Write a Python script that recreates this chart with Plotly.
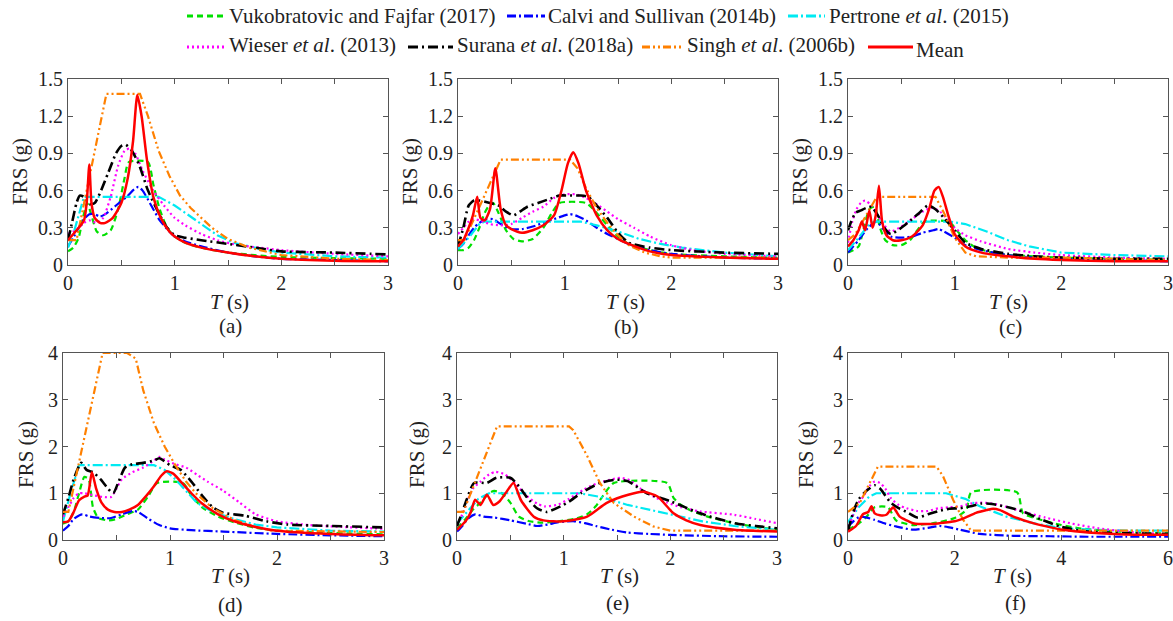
import plotly.graph_objects as go

# ---------------- data ----------------
# Panel (a)
A_VF_T = [0, 0.05, 0.1, 0.14, 0.18, 0.22, 0.27, 0.33, 0.4, 0.47, 0.53, 0.57, 0.75, 0.8, 0.86, 0.93, 1.0, 1.1, 1.25, 1.5, 1.75, 2.0, 2.5, 3.0]
A_VF = [0.11, 0.14, 0.22, 0.38, 0.5, 0.4, 0.27, 0.24, 0.28, 0.45, 0.7, 0.83, 0.83, 0.65, 0.45, 0.3, 0.23, 0.18, 0.14, 0.1, 0.08, 0.065, 0.055, 0.05]
A_CS_T = [0, 0.05, 0.1, 0.15, 0.2, 0.25, 0.3, 0.35, 0.45, 0.55, 0.62, 0.66, 0.7, 0.78, 0.86, 0.95, 1.0, 1.1, 1.25, 1.5, 1.75, 2.0, 2.5, 3.0]
A_CS = [0.15, 0.22, 0.3, 0.37, 0.41, 0.41, 0.39, 0.41, 0.48, 0.55, 0.61, 0.63, 0.6, 0.48, 0.36, 0.27, 0.23, 0.19, 0.15, 0.1, 0.07, 0.05, 0.04, 0.03]
A_PE_T = [0, 0.05, 0.1, 0.15, 0.85, 1.0, 1.1, 1.25, 1.4, 1.55, 1.8, 2.0, 2.5, 3.0]
A_PE = [0.14, 0.25, 0.4, 0.55, 0.55, 0.48, 0.42, 0.33, 0.24, 0.18, 0.13, 0.1, 0.07, 0.06]
A_WI_T = [0, 0.05, 0.1, 0.15, 0.2, 0.27, 0.33, 0.4, 0.47, 0.53, 0.58, 0.63, 0.7, 0.8, 0.9, 1.0, 1.1, 1.25, 1.4, 1.6, 1.8, 2.0, 2.5, 3.0]
A_WI = [0.25, 0.27, 0.3, 0.34, 0.36, 0.34, 0.38, 0.55, 0.8, 0.92, 0.94, 0.9, 0.76, 0.6, 0.48, 0.38, 0.32, 0.25, 0.2, 0.16, 0.14, 0.12, 0.09, 0.07]
A_SU_T = [0, 0.04, 0.08, 0.11, 0.15, 0.2, 0.25, 0.3, 0.38, 0.45, 0.5, 0.54, 0.6, 0.67, 0.75, 0.85, 0.93, 1.0, 1.1, 1.25, 1.5, 1.75, 2.0, 2.5, 3.0]
A_SU = [0.2, 0.35, 0.5, 0.56, 0.55, 0.49, 0.5, 0.58, 0.75, 0.9, 0.96, 0.97, 0.92, 0.8, 0.6, 0.42, 0.3, 0.24, 0.22, 0.2, 0.17, 0.14, 0.11, 0.1, 0.085]
A_SI_T = [0, 0.08, 0.36, 0.675, 0.75, 0.85, 0.95, 1.05, 1.15, 1.25, 1.35, 1.5, 1.7, 2.0, 2.5, 3.0]
A_SI = [0.2, 0.2, 1.38, 1.38, 1.2, 0.92, 0.72, 0.56, 0.46, 0.38, 0.3, 0.21, 0.14, 0.08, 0.05, 0.04]
A_MEAN_T = [0, 0.05, 0.1, 0.15, 0.175, 0.2, 0.22, 0.25, 0.3, 0.35, 0.42, 0.5, 0.56, 0.61, 0.65, 0.69, 0.74, 0.8, 0.87, 0.95, 1.0, 1.1, 1.25, 1.5, 1.75, 2.0, 2.5, 3.0]
A_MEAN = [0.2, 0.25, 0.3, 0.36, 0.5, 0.81, 0.5, 0.38, 0.34, 0.34, 0.38, 0.5, 0.7, 1.0, 1.37, 1.2, 0.85, 0.55, 0.38, 0.27, 0.23, 0.18, 0.14, 0.1, 0.07, 0.05, 0.035, 0.03]

# Panel (b)
B_VF_T = [0, 0.05, 0.1, 0.15, 0.2, 0.25, 0.3, 0.33, 0.38, 0.45, 0.52, 0.6, 0.7, 0.8, 0.88, 0.95, 1.2, 1.3, 1.4, 1.5, 1.6, 1.8, 2.0, 2.5, 3.0]
B_VF = [0.12, 0.12, 0.14, 0.2, 0.3, 0.42, 0.49, 0.5, 0.42, 0.28, 0.21, 0.19, 0.21, 0.3, 0.42, 0.5, 0.5, 0.42, 0.32, 0.23, 0.17, 0.12, 0.09, 0.07, 0.06]
B_CS_T = [0, 0.05, 0.1, 0.15, 0.2, 0.27, 0.33, 0.4, 0.5, 0.6, 0.7, 0.8, 0.9, 1.0, 1.05, 1.1, 1.2, 1.3, 1.4, 1.5, 1.6, 1.8, 2.0, 2.5, 3.0]
B_CS = [0.13, 0.17, 0.24, 0.3, 0.34, 0.37, 0.37, 0.33, 0.29, 0.29, 0.31, 0.34, 0.37, 0.4, 0.41, 0.4, 0.36, 0.3, 0.25, 0.21, 0.17, 0.12, 0.09, 0.06, 0.05]
B_PE_T = [0, 0.1, 0.2, 0.25, 1.15, 1.3, 1.5, 1.7, 1.9, 2.1, 2.5, 3.0]
B_PE = [0.13, 0.22, 0.33, 0.35, 0.35, 0.32, 0.27, 0.21, 0.17, 0.14, 0.1, 0.07]
B_WI_T = [0, 0.05, 0.1, 0.15, 0.2, 0.3, 0.4, 0.5, 0.6, 0.7, 0.8, 0.9, 1.0, 1.1, 1.2, 1.3, 1.4, 1.5, 1.65, 1.8, 2.0, 2.2, 2.5, 3.0]
B_WI = [0.25, 0.3, 0.35, 0.37, 0.36, 0.33, 0.32, 0.33, 0.38, 0.43, 0.47, 0.54, 0.57, 0.57, 0.54, 0.49, 0.43, 0.37, 0.3, 0.23, 0.16, 0.12, 0.09, 0.07]
B_SU_T = [0, 0.05, 0.1, 0.15, 0.2, 0.3, 0.38, 0.45, 0.52, 0.58, 0.65, 0.75, 0.85, 0.95, 1.05, 1.15, 1.22, 1.3, 1.4, 1.5, 1.6, 1.8, 2.0, 2.5, 3.0]
B_SU = [0.15, 0.3, 0.48, 0.52, 0.52, 0.5, 0.48, 0.43, 0.4, 0.43, 0.47, 0.5, 0.53, 0.56, 0.56, 0.56, 0.55, 0.48, 0.38, 0.26, 0.18, 0.14, 0.12, 0.1, 0.09]
B_SI_T = [0, 0.06, 0.4, 1.05, 1.12, 1.2, 1.3, 1.4, 1.5, 1.6, 1.75, 1.9, 2.0, 2.5, 3.0]
B_SI = [0.2, 0.2, 0.85, 0.85, 0.78, 0.62, 0.46, 0.34, 0.24, 0.16, 0.1, 0.07, 0.06, 0.06, 0.06]
B_MEAN_T = [0, 0.05, 0.1, 0.14, 0.18, 0.21, 0.25, 0.3, 0.35, 0.4, 0.45, 0.5, 0.6, 0.7, 0.8, 0.9, 0.97, 1.03, 1.08, 1.13, 1.2, 1.3, 1.4, 1.5, 1.6, 1.8, 2.0, 2.5, 3.0]
B_MEAN = [0.15, 0.2, 0.3, 0.4, 0.55, 0.38, 0.36, 0.45, 0.78, 0.45, 0.32, 0.29, 0.26, 0.28, 0.32, 0.4, 0.6, 0.82, 0.91, 0.82, 0.6, 0.4, 0.28, 0.21, 0.17, 0.11, 0.08, 0.06, 0.05]

# Panel (c)
C_VF_T = [0, 0.05, 0.1, 0.15, 0.2, 0.25, 0.3, 0.35, 0.42, 0.5, 0.58, 0.65, 0.72, 0.95, 1.0, 1.1, 1.2, 1.35, 1.5, 1.75, 2.0, 2.5, 3.0]
C_VF = [0.1, 0.12, 0.15, 0.3, 0.45, 0.47, 0.3, 0.2, 0.16, 0.16, 0.2, 0.28, 0.35, 0.35, 0.3, 0.2, 0.14, 0.1, 0.08, 0.07, 0.06, 0.05, 0.04]
C_CS_T = [0, 0.05, 0.1, 0.15, 0.2, 0.27, 0.32, 0.4, 0.5, 0.6, 0.7, 0.8, 0.85, 0.9, 1.0, 1.1, 1.25, 1.5, 1.75, 2.0, 2.5, 3.0]
C_CS = [0.1, 0.15, 0.2, 0.26, 0.31, 0.35, 0.3, 0.23, 0.22, 0.23, 0.26, 0.28, 0.29, 0.27, 0.22, 0.16, 0.12, 0.08, 0.06, 0.05, 0.04, 0.03]
C_PE_T = [0, 0.1, 0.2, 0.25, 0.95, 1.1, 1.3, 1.5, 1.7, 2.0, 2.5, 3.0]
C_PE = [0.12, 0.22, 0.33, 0.35, 0.35, 0.33, 0.27, 0.2, 0.15, 0.1, 0.08, 0.07]
C_WI_T = [0, 0.04, 0.08, 0.12, 0.16, 0.22, 0.28, 0.34, 0.4, 0.5, 0.6, 0.7, 0.78, 0.85, 0.92, 1.0, 1.1, 1.25, 1.5, 1.75, 2.0, 2.5, 3.0]
C_WI = [0.18, 0.35, 0.45, 0.5, 0.52, 0.48, 0.4, 0.32, 0.27, 0.31, 0.37, 0.43, 0.46, 0.44, 0.38, 0.3, 0.24, 0.19, 0.13, 0.1, 0.08, 0.06, 0.05]
C_SU_T = [0, 0.03, 0.07, 0.12, 0.17, 0.22, 0.28, 0.34, 0.4, 0.5, 0.6, 0.68, 0.75, 0.82, 0.9, 1.0, 1.1, 1.25, 1.5, 1.75, 2.0, 2.5, 3.0]
C_SU = [0.28, 0.35, 0.42, 0.44, 0.46, 0.47, 0.4, 0.3, 0.25, 0.3, 0.37, 0.43, 0.48, 0.45, 0.38, 0.28, 0.18, 0.13, 0.09, 0.07, 0.06, 0.05, 0.05]
C_SI_T = [0, 0.07, 0.27, 0.82, 0.9, 1.0, 1.1, 1.2, 1.5, 2.0, 2.5, 3.0]
C_SI = [0.2, 0.25, 0.55, 0.55, 0.42, 0.22, 0.1, 0.07, 0.06, 0.06, 0.05, 0.04]
C_MEAN_T = [0, 0.05, 0.1, 0.13, 0.16, 0.2, 0.23, 0.26, 0.29, 0.32, 0.36, 0.42, 0.5, 0.6, 0.7, 0.76, 0.81, 0.85, 0.89, 0.94, 1.0, 1.1, 1.25, 1.5, 1.75, 2.0, 2.5, 3.0]
C_MEAN = [0.15, 0.2, 0.28, 0.35, 0.28, 0.44, 0.3, 0.4, 0.64, 0.35, 0.24, 0.2, 0.2, 0.23, 0.32, 0.45, 0.6, 0.63, 0.55, 0.4, 0.25, 0.15, 0.1, 0.07, 0.05, 0.04, 0.03, 0.03]

# Panel (d)
D_VF_T = [0, 0.05, 0.1, 0.15, 0.2, 0.24, 0.28, 0.33, 0.42, 0.5, 0.6, 0.7, 0.8, 0.88, 1.12, 1.2, 1.3, 1.45, 1.6, 1.8, 2.0, 2.5, 3.0]
D_VF = [0.35, 0.4, 0.6, 1.0, 1.35, 1.3, 0.7, 0.47, 0.42, 0.45, 0.55, 0.65, 0.95, 1.22, 1.22, 0.95, 0.7, 0.5, 0.38, 0.26, 0.2, 0.15, 0.12]
D_CS_T = [0, 0.05, 0.1, 0.18, 0.25, 0.35, 0.45, 0.55, 0.65, 0.7, 0.8, 0.9, 1.0, 1.2, 1.5, 2.0, 2.5, 3.0]
D_CS = [0.2, 0.3, 0.45, 0.55, 0.5, 0.47, 0.47, 0.55, 0.62, 0.6, 0.45, 0.32, 0.25, 0.21, 0.18, 0.13, 0.1, 0.08]
D_PE_T = [0, 0.07, 0.15, 0.85, 0.95, 1.05, 1.15, 1.25, 1.4, 1.6, 1.8, 2.0, 2.5, 3.0]
D_PE = [0.4, 1.0, 1.6, 1.6, 1.5, 1.3, 1.05, 0.8, 0.6, 0.45, 0.33, 0.27, 0.2, 0.18]
D_WI_T = [0, 0.05, 0.1, 0.15, 0.2, 0.3, 0.38, 0.45, 0.5, 0.55, 0.65, 0.75, 0.85, 0.9, 0.95, 1.05, 1.15, 1.25, 1.35, 1.5, 1.65, 1.8, 2.0, 2.3, 2.6, 3.0]
D_WI = [0.5, 0.7, 0.9, 1.0, 1.0, 0.95, 0.92, 0.92, 1.1, 1.3, 1.45, 1.55, 1.7, 1.78, 1.72, 1.62, 1.55, 1.4, 1.25, 1.05, 0.8, 0.55, 0.4, 0.32, 0.28, 0.24]
D_SU_T = [0, 0.05, 0.1, 0.17, 0.22, 0.28, 0.35, 0.42, 0.47, 0.52, 0.58, 0.65, 0.75, 0.85, 0.9, 1.0, 1.1, 1.2, 1.3, 1.4, 1.5, 1.7, 1.9, 2.1, 2.5, 3.0]
D_SU = [0.55, 0.9, 1.3, 1.65, 1.5, 1.45, 1.3, 1.1, 1.0, 1.25, 1.55, 1.62, 1.65, 1.7, 1.75, 1.6, 1.5, 1.25, 0.95, 0.7, 0.58, 0.52, 0.4, 0.33, 0.3, 0.27]
D_SI_T = [0, 0.05, 0.37, 0.6, 0.68, 0.75, 0.85, 0.95, 1.05, 1.15, 1.25, 1.4, 1.6, 1.8, 1.95, 3.0]
D_SI = [0.6, 0.6, 4.0, 4.0, 3.88, 3.2, 2.5, 2.0, 1.6, 1.25, 0.98, 0.68, 0.43, 0.28, 0.2, 0.17]
D_MEAN_T = [0, 0.05, 0.1, 0.15, 0.2, 0.23, 0.27, 0.31, 0.36, 0.42, 0.48, 0.55, 0.62, 0.7, 0.78, 0.85, 0.92, 0.97, 1.03, 1.1, 1.2, 1.3, 1.45, 1.6, 1.8, 2.0, 2.5, 3.0]
D_MEAN = [0.38, 0.4, 0.6, 0.85, 0.93, 0.95, 1.45, 1.1, 0.8, 0.65, 0.6, 0.6, 0.65, 0.75, 0.95, 1.15, 1.38, 1.47, 1.42, 1.25, 1.0, 0.78, 0.55, 0.4, 0.28, 0.2, 0.13, 0.1]

# Panel (e)
E_VF_T = [0, 0.08, 0.15, 0.22, 0.3, 0.35, 0.42, 0.5, 0.58, 0.68, 0.8, 0.95, 1.1, 1.22, 1.3, 1.37, 1.47, 1.97, 2.03, 2.1, 2.2, 2.35, 2.6, 2.8, 3.0]
E_VF = [0.25, 0.45, 0.65, 0.8, 1.0, 1.05, 1.0, 0.8, 0.5, 0.4, 0.37, 0.4, 0.45, 0.55, 0.72, 0.95, 1.22, 1.22, 0.9, 0.75, 0.62, 0.5, 0.36, 0.28, 0.22]
E_CS_T = [0, 0.05, 0.1, 0.17, 0.25, 0.35, 0.5, 0.65, 0.75, 0.85, 0.95, 1.1, 1.2, 1.3, 1.45, 1.6, 1.8, 2.0, 2.5, 3.0]
E_CS = [0.18, 0.3, 0.45, 0.55, 0.5, 0.48, 0.42, 0.35, 0.3, 0.33, 0.38, 0.4, 0.36, 0.3, 0.22, 0.16, 0.13, 0.11, 0.08, 0.07]
E_PE_T = [0, 0.1, 0.2, 0.3, 1.15, 1.35, 1.6, 2.0, 2.3, 2.6, 3.0]
E_PE = [0.35, 0.62, 0.88, 1.0, 1.0, 0.92, 0.75, 0.55, 0.4, 0.3, 0.22]
E_WI_T = [0, 0.05, 0.1, 0.15, 0.22, 0.3, 0.36, 0.45, 0.55, 0.65, 0.75, 0.82, 0.95, 1.05, 1.19, 1.3, 1.42, 1.53, 1.62, 1.72, 1.85, 1.97, 2.1, 2.28, 2.6, 2.8, 3.0]
E_WI = [0.3, 0.55, 0.85, 1.1, 1.25, 1.4, 1.46, 1.4, 1.2, 0.95, 0.78, 0.72, 0.76, 0.88, 1.08, 1.2, 1.28, 1.33, 1.28, 1.1, 0.92, 0.8, 0.7, 0.61, 0.54, 0.45, 0.36]
E_SU_T = [0, 0.05, 0.09, 0.16, 0.28, 0.37, 0.5, 0.58, 0.66, 0.75, 0.84, 0.97, 1.05, 1.16, 1.34, 1.5, 1.6, 1.78, 2.0, 2.28, 2.6, 2.8, 3.0]
E_SU = [0.3, 0.6, 0.86, 1.22, 1.22, 1.33, 1.33, 1.15, 0.9, 0.68, 0.6, 0.72, 0.82, 1.0, 1.22, 1.29, 1.26, 1.0, 0.83, 0.57, 0.36, 0.3, 0.25]
E_SI_T = [0, 0.06, 0.375, 1.05, 1.09, 1.22, 1.34, 1.47, 1.66, 1.84, 2.0, 3.0]
E_SI = [0.6, 0.6, 2.43, 2.43, 2.35, 1.8, 1.22, 0.79, 0.5, 0.29, 0.2, 0.2]
E_MEAN_T = [0, 0.08, 0.13, 0.17, 0.22, 0.28, 0.34, 0.4, 0.47, 0.53, 0.6, 0.72, 0.81, 1.0, 1.22, 1.4, 1.55, 1.66, 1.75, 1.88, 2.03, 2.15, 2.28, 2.6, 3.0]
E_MEAN = [0.22, 0.4, 0.6, 0.86, 0.75, 0.97, 0.75, 0.83, 1.05, 1.22, 0.85, 0.5, 0.42, 0.4, 0.5, 0.79, 0.93, 1.0, 1.03, 0.93, 0.57, 0.42, 0.32, 0.22, 0.18]

# Panel (f)
F_VF_T = [0, 0.2, 0.35, 0.5, 0.75, 0.9, 1.22, 1.6, 2.0, 2.22, 2.31, 3.17, 3.28, 3.5, 3.72, 4.0, 4.34, 4.8, 5.4, 6.0]
F_VF = [0.22, 0.35, 0.5, 0.7, 0.7, 0.42, 0.32, 0.36, 0.47, 0.65, 1.02, 1.02, 0.57, 0.47, 0.4, 0.32, 0.25, 0.2, 0.16, 0.14]
F_CS_T = [0, 0.1, 0.22, 0.35, 0.5, 0.7, 0.9, 1.22, 1.5, 1.72, 1.9, 2.1, 2.47, 3.1, 3.8, 4.5, 5.2, 6.0]
F_CS = [0.29, 0.4, 0.5, 0.48, 0.43, 0.35, 0.29, 0.22, 0.26, 0.3, 0.27, 0.22, 0.13, 0.09, 0.08, 0.07, 0.07, 0.07]
F_PE_T = [0, 0.2, 0.4, 0.53, 1.84, 2.2, 2.47, 2.97, 3.47, 4.03, 4.6, 5.2, 6.0]
F_PE = [0.38, 0.7, 0.93, 1.0, 1.0, 0.88, 0.72, 0.5, 0.36, 0.25, 0.22, 0.2, 0.2]
F_WI_T = [0, 0.1, 0.2, 0.3, 0.4, 0.5, 0.6, 0.7, 0.8, 0.95, 1.1, 1.3, 1.5, 1.7, 1.9, 2.1, 2.3, 2.5, 2.7, 3.0, 3.3, 3.7, 4.2, 4.7, 5.3, 6.0]
F_WI = [0.2, 0.55, 0.8, 0.95, 1.15, 1.25, 1.22, 1.1, 0.9, 0.75, 0.68, 0.62, 0.62, 0.68, 0.7, 0.72, 0.78, 0.8, 0.78, 0.7, 0.6, 0.48, 0.35, 0.25, 0.17, 0.12]
F_SU_T = [0, 0.1, 0.2, 0.3, 0.4, 0.5, 0.6, 0.7, 0.8, 0.95, 1.1, 1.3, 1.5, 1.7, 1.9, 2.1, 2.3, 2.5, 2.7, 3.0, 3.3, 3.6, 4.0, 4.5, 5.0, 6.0]
F_SU = [0.2, 0.6, 0.87, 1.0, 1.1, 1.17, 1.1, 0.95, 0.8, 0.68, 0.6, 0.48, 0.55, 0.62, 0.67, 0.68, 0.72, 0.78, 0.77, 0.7, 0.6, 0.45, 0.28, 0.18, 0.15, 0.13]
F_SI_T = [0, 0.22, 0.56, 1.66, 1.78, 1.97, 2.16, 2.31, 6.0]
F_SI = [0.6, 0.79, 1.57, 1.57, 1.37, 0.86, 0.43, 0.2, 0.2]
F_MEAN_T = [0, 0.15, 0.28, 0.38, 0.44, 0.5, 0.6, 0.72, 0.8, 0.85, 0.9, 0.97, 1.1, 1.22, 1.5, 1.72, 2.0, 2.2, 2.4, 2.6, 2.72, 2.85, 3.1, 3.47, 3.8, 4.03, 4.5, 5.2, 6.0]
F_MEAN = [0.18, 0.3, 0.55, 0.6, 0.72, 0.57, 0.53, 0.54, 0.65, 0.7, 0.62, 0.5, 0.42, 0.36, 0.34, 0.36, 0.4, 0.48, 0.58, 0.64, 0.67, 0.64, 0.5, 0.36, 0.27, 0.22, 0.16, 0.12, 0.11]

PANELS = ["A", "B", "C", "D", "E", "F"]
PANEL_LABELS = ["(a)", "(b)", "(c)", "(d)", "(e)", "(f)"]
SERIES_KEYS = ["VF", "CS", "PE", "WI", "SU", "SI", "MEAN"]
SERIES_NAMES = ["Vukobratovic and Fajfar (2017)", "Calvi and Sullivan (2014b)",
                "Pertrone <i>et al</i>. (2015)", "Wieser <i>et al</i>. (2013)",
                "Surana <i>et al</i>. (2018a)", "Singh <i>et al</i>. (2006b)", "Mean"]
TOP_YTICKS = [0, 0.3, 0.6, 0.9, 1.2, 1.5]
TOP_YTICKTEXT = ["0", "0.3", "0.6", "0.9", "1.2", "1.5"]
BOT_YTICKS = [0, 1, 2, 3, 4]
BOT_YTICKTEXT = ["0", "1", "2", "3", "4"]
X3_TICKS = [0, 0.5, 1, 1.5, 2, 2.5, 3]
X3_TICKTEXT = ["0", "", "1", "", "2", "", "3"]
X6_TICKS = [0, 1, 2, 3, 4, 5, 6]
X6_TICKTEXT = ["0", "", "2", "", "4", "", "6"]

# ---------------- styles ----------------
STYLE = {
    "VF":   dict(color="#00e000", width=2.2, dash="6px,4px"),
    "CS":   dict(color="#0000ff", width=2.2, dash="9px,3px,2px,3px"),
    "PE":   dict(color="#00eaf2", width=2.2, dash="10px,3px,2px,3px"),
    "WI":   dict(color="#ff00ff", width=2.2, dash="2px,3px"),
    "SU":   dict(color="#000000", width=2.6, dash="10px,4px,2px,4px"),
    "SI":   dict(color="#ff8000", width=2.2, dash="8px,3px,2px,3px,2px,3px"),
    "MEAN": dict(color="#ff0000", width=2.5, dash="solid"),
}
SHAPE = {"VF": "spline", "CS": "spline", "PE": "linear", "WI": "spline",
         "SU": "spline", "SI": "linear", "MEAN": "spline"}

W, H = 1173, 621
# plot boxes in pixels (left, right, top, bottom)
BOX = {
    "A": (68, 388, 79, 265), "B": (458, 778, 79, 265), "C": (848, 1168, 79, 265),
    "D": (63, 384, 353, 540), "E": (457, 777, 353, 540), "F": (848, 1168, 353, 540),
}
FONT = "Liberation Serif"
AXCOL = "#555555"
TXT = "#222222"

fig = go.Figure()
for i, p in enumerate(PANELS):
    xa = "x" if i == 0 else f"x{i+1}"
    ya = "y" if i == 0 else f"y{i+1}"
    for k in SERIES_KEYS:
        t = globals()[f"{p}_{k}_T"]
        v = globals()[f"{p}_{k}"]
        st = STYLE[k]
        line = dict(color=st["color"], width=st["width"], dash=st["dash"], shape=SHAPE[k])
        if SHAPE[k] == "spline":
            line["smoothing"] = 0.6
        fig.add_trace(go.Scatter(x=t, y=v, mode="lines", line=line, xaxis=xa, yaxis=ya,
                                 showlegend=False, hoverinfo="skip"))

layout = dict(width=W, height=H, margin=dict(l=0, r=0, t=0, b=0),
              paper_bgcolor="white", plot_bgcolor="white", template="none",
              showlegend=False, font=dict(family=FONT, color=TXT))
common = dict(showline=True, linecolor=AXCOL, linewidth=1, mirror="ticks", ticks="inside",
              ticklen=5, tickcolor=AXCOL, tickwidth=1, showgrid=False, zeroline=False,
              tickfont=dict(family=FONT, size=20, color=TXT), tickmode="array")
for i, p in enumerate(PANELS):
    l, r, t, b = BOX[p]
    xk = "xaxis" if i == 0 else f"xaxis{i+1}"
    yk = "yaxis" if i == 0 else f"yaxis{i+1}"
    xa = "x" if i == 0 else f"x{i+1}"
    ya = "y" if i == 0 else f"y{i+1}"
    if p == "F":
        xr, xt, xtt = [0, 6], X6_TICKS, X6_TICKTEXT
    else:
        xr, xt, xtt = [0, 3], X3_TICKS, X3_TICKTEXT
    if i < 3:
        yr, yt, ytt = [0, 1.5], TOP_YTICKS, TOP_YTICKTEXT
    else:
        yr, yt, ytt = [0, 4], BOT_YTICKS, BOT_YTICKTEXT
    layout[xk] = dict(common, domain=[l / W, r / W], anchor=ya, range=xr,
                      tickvals=xt, ticktext=xtt)
    layout[yk] = dict(common, domain=[1 - b / H, 1 - t / H], anchor=xa, range=yr,
                      tickvals=yt, ticktext=ytt)
fig.update_layout(**layout)

ann = []
def add_text(x, y, text, size=21, xanchor="center", angle=0):
    ann.append(dict(x=x / W, y=1 - y / H, xref="paper", yref="paper", text=text,
                    showarrow=False, xanchor=xanchor, yanchor="middle", textangle=angle,
                    font=dict(family=FONT, size=size, color=TXT)))

FRS_X = [20, 410, 800, 26, 417, 806]
FRS_Y = [172, 172, 172, 455, 455, 455]
TS_X = [229, 625, 1008, 230, 619, 1012]
TS_Y = [302, 302, 302, 576, 576, 576]
LAB_X = [230, 626, 1010, 230, 617, 1015]
LAB_Y = [326, 327, 327, 605, 603, 603]
for i in range(6):
    add_text(FRS_X[i], FRS_Y[i], "FRS (g)", angle=-90)
    add_text(TS_X[i], TS_Y[i], "<i>T</i> (s)")
    add_text(LAB_X[i], LAB_Y[i], PANEL_LABELS[i])

# legend (drawn by hand)
LEG_X0 = [187, 507, 788, 187, 408, 642, 868]
LEG_X1 = [225, 545, 825, 225, 453, 683, 913]
LEG_Y = [16, 16, 16, 47, 47, 47, 47]
LEG_TX = [227, 546, 827, 227, 455, 685, 914]
LEG_TY = [16, 16, 16, 45, 45, 45, 50]
shapes = []
for j, k in enumerate(SERIES_KEYS):
    st = STYLE[k]
    shapes.append(dict(type="line", xref="paper", yref="paper",
                       x0=LEG_X0[j] / W, x1=LEG_X1[j] / W,
                       y0=1 - LEG_Y[j] / H, y1=1 - LEG_Y[j] / H,
                       line=dict(color=st["color"], width=3, dash=st["dash"])))
    add_text(LEG_TX[j], LEG_TY[j], SERIES_NAMES[j], xanchor="left")

fig.update_layout(annotations=ann, shapes=shapes)
fig.write_html("out.html")
